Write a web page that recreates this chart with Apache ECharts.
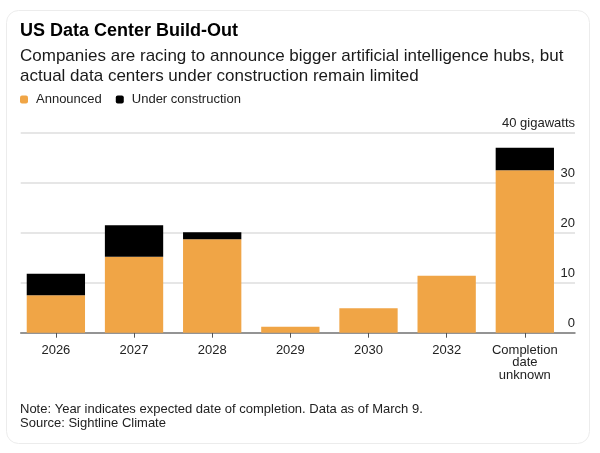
<!DOCTYPE html>
<html>
<head>
    <meta charset="utf-8">
    <title>US Data Center Build-Out</title>
    <style>
        html, body { margin: 0; padding: 0; background: #fff; }
    </style>
</head>
<body>
<div id="main" style="width:600px;height:453px;"></div>
<script src="https://cdn.jsdelivr.net/npm/echarts@6/dist/echarts.min.js" type="text/javascript"></script>
<script type="text/javascript">

var categories = ['2026', '2027', '2028', '2029', '2030', '2032', 'Completion\ndate\nunknown'];
var announced = [7.5, 15.2, 18.7, 1.2, 4.9, 11.4, 32.5];
var underConstruction = [4.3, 6.3, 1.4, 0, 0, 0, 4.5];
var yTicks = [0, 10, 20, 30, 40];

var font = '"Liberation Sans", Arial, Helvetica, sans-serif';
var orange = '#F0A546';

var myChart = echarts.init(document.getElementById('main'));

var option = {
    animation: false,
    textStyle: { fontFamily: font },
    title: {
        left: 20,
        top: 21,
        padding: 0,
        itemGap: 5,
        text: 'US Data Center Build-Out',
        textStyle: { fontFamily: font, fontSize: 18, fontWeight: 'bold', color: '#000', lineHeight: 20 },
        subtext: 'Companies are racing to announce bigger artificial intelligence hubs, but\nactual data centers under construction remain limited',
        subtextStyle: { fontFamily: font, fontSize: 17, color: '#1a1a1a', lineHeight: 20 }
    },
    legend: {
        left: 20,
        top: 93,
        padding: 0,
        itemWidth: 8,
        itemHeight: 8,
        itemGap: 14,
        icon: 'roundRect',
        textStyle: { fontFamily: font, fontSize: 13, color: '#222', padding: [0, 0, 0, 3] },
        data: ['Announced', 'Under construction']
    },
    graphic: [
        {
            type: 'rect',
            silent: true,
            z: -10,
            shape: { x: 6.5, y: 10.5, width: 583, height: 433, r: 12 },
            style: { fill: '#fff', stroke: '#ececec', lineWidth: 1 }
        },
        {
            type: 'text',
            left: 20,
            top: 403,
            style: {
                text: 'Note: Year indicates expected date of completion. Data as of March 9.\nSource: Sightline Climate',
                font: '13px ' + font,
                fill: '#222',
                lineHeight: 13.5
            }
        }
    ],
    grid: [
        { left: 20.7, right: 25, top: 132.7, bottom: 120.3 },
        { left: 16.8, right: 36.1, top: 132.7, bottom: 120.3 }
    ],
    xAxis: [
        {
            gridIndex: 0,
            type: 'value',
            min: 0,
            max: 1,
            axisLine: { show: true, lineStyle: { color: '#7a7a7a', width: 1.5 } },
            axisTick: { show: false },
            axisLabel: { show: false },
            splitLine: { show: false }
        },
        {
            gridIndex: 1,
            type: 'category',
            data: categories,
            axisLine: { show: false },
            axisTick: { show: true, alignWithLabel: true, length: 5, lineStyle: { color: '#555' } },
            axisLabel: { fontFamily: font, fontSize: 13, color: '#222', margin: 11, lineHeight: 12.5, interval: 0 }
        }
    ],
    yAxis: [
        {
            gridIndex: 0,
            type: 'value',
            position: 'right',
            min: 0,
            max: 40,
            interval: 10,
            axisLine: { show: false },
            axisTick: { show: false },
            splitLine: { show: true, lineStyle: { color: '#dedede', width: 1.5 } },
            axisLabel: {
                inside: true,
                margin: 0,
                fontFamily: font,
                fontSize: 13,
                color: '#222',
                verticalAlign: 'bottom',
                lineHeight: 13,
                padding: [0, 0, 3, 0],
                formatter: function (v) {
                    return v === yTicks[yTicks.length - 1] ? v + ' gigawatts' : String(v);
                }
            }
        },
        {
            gridIndex: 1,
            type: 'value',
            min: 0,
            max: 40,
            show: false
        }
    ],
    series: [
        {
            name: 'Announced',
            type: 'bar',
            xAxisIndex: 1,
            yAxisIndex: 1,
            stack: 'total',
            barCategoryGap: '25.4%',
            itemStyle: { color: orange },
            data: announced
        },
        {
            name: 'Under construction',
            type: 'bar',
            xAxisIndex: 1,
            yAxisIndex: 1,
            stack: 'total',
            barCategoryGap: '25.4%',
            itemStyle: { color: '#000' },
            data: underConstruction
        }
    ]
};

myChart.setOption(option);
</script>
</body>
</html>
